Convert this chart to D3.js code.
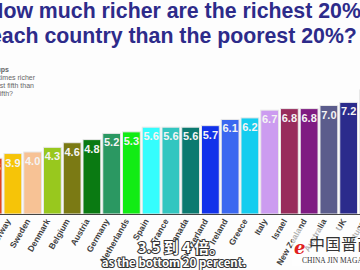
<!DOCTYPE html>
<html>
<head>
<meta charset="utf-8">
<script src="https://cdn.jsdelivr.net/npm/d3@7"></script>
<style>
  html, body { margin: 0; padding: 0; background: #fdfdfd; overflow: hidden; }
  svg { display: block; }
</style>
</head>
<body>
<div id="chart"></div>
<script>
// Data ///////////////////////////////////////////////////////////////////
const countries = ['Finland', 'Norway', 'Sweden', 'Denmark', 'Belgium', 'Austria',
  'Germany', 'Netherlands', 'Spain', 'France', 'Canada', 'Switzerland', 'Ireland',
  'Greece', 'Italy', 'Israel', 'New Zealand', 'Australia', 'UK', 'Portugal']
const ratios = [3.6, 3.9, 4.0, 4.3, 4.6, 4.8, 5.2, 5.3, 5.6, 5.6, 5.6, 5.7, 6.1,
  6.2, 6.7, 6.8, 6.8, 7.0, 7.2, 8.0]
const titleLines = ['How much richer are the richest 20% in', 'each country than the poorest 20%?']
const noteLines = ['Income groups', 'How many times richer', 'is the richest fifth than', 'the poorest fifth?']
const subtitleLines = ['3.5 到 4 倍。', 'as the bottom 20 percent.']
///////////////////////////////////////////////////////////////////////////

const palette = ['#e2461c', '#f6c408', '#f7c295', '#98c81e', '#7b7a14', '#0a7a12',
  '#2b9862', '#12ec14', '#35fdfd', '#33c6c0', '#0c7a70', '#1232ea', '#3b68f0',
  '#14cdef', '#cc9cf0', '#982c5c', '#7f1b82', '#5b5c8c', '#2b2b8c', '#1c1c82']

const dimensions = { width: 360, height: 270, baseline: 214 }

const svg = d3.select('#chart')
  .append('svg')
  .attr('width', dimensions.width)
  .attr('height', dimensions.height)

// Scales
const step = 19.75
const xScale = d3.scaleBand()
  .domain(countries)
  .range([-15.75, -15.75 + step * (countries.length - 0.1)])
  .paddingInner(0.1)

const yScale = d3.scaleLinear()
  .domain([0, 8])
  .range([dimensions.baseline, 90])

const colorScale = d3.scaleOrdinal().domain(countries).range(palette)

// Title
svg.append('g')
  .selectAll('text')
  .data(titleLines)
  .join('text')
  .attr('x', (d, i) => i === 0 ? -12 : -10)
  .attr('y', (d, i) => 18 + i * 25)
  .attr('font-family', 'Liberation Sans, Arial, sans-serif')
  .attr('font-weight', 'bold')
  .attr('font-size', 21.3)
  .attr('fill', '#2d2b8a')
  .text(d => d)

// Note at left (cut off)
svg.append('g')
  .selectAll('text')
  .data(noteLines)
  .join('text')
  .attr('x', (d, i) => [9, 35, 34, 13][i])
  .attr('y', (d, i) => 72 + i * 8)
  .attr('text-anchor', 'end')
  .attr('font-family', 'Liberation Sans, Arial, sans-serif')
  .attr('font-weight', (d, i) => i === 0 ? 'bold' : 'normal')
  .attr('font-size', 7)
  .attr('fill', '#666')
  .text(d => d)

// Bars
const bars = svg.append('g')
bars.selectAll('rect')
  .data(countries)
  .join('rect')
  .attr('x', d => xScale(d))
  .attr('y', (d, i) => yScale(ratios[i]))
  .attr('width', xScale.bandwidth())
  .attr('height', (d, i) => dimensions.baseline - yScale(ratios[i]))
  .attr('fill', d => colorScale(d))
  .attr('stroke', '#e8e8e8')
  .attr('stroke-width', 1)

// Value labels
svg.append('g')
  .selectAll('text')
  .data(countries)
  .join('text')
  .attr('x', d => xScale(d) + xScale.bandwidth() / 2)
  .attr('y', (d, i) => yScale(ratios[i]) + 13)
  .attr('text-anchor', 'middle')
  .attr('font-family', 'Liberation Sans, Arial, sans-serif')
  .attr('font-weight', 'bold')
  .attr('font-size', 11)
  .attr('fill', '#f4f4f4')
  .text((d, i) => ratios[i].toFixed(1))

// Baseline
const xAxis = d3.axisBottom(xScale).tickSize(0).tickFormat('')
svg.append('g')
  .attr('transform', `translate(0, ${dimensions.baseline})`)
  .call(xAxis)
  .call(g => g.select('.domain').attr('stroke', '#444').attr('stroke-width', 1.2))

// Country labels
svg.append('g')
  .selectAll('text')
  .data(countries)
  .join('text')
  .attr('transform', d => `translate(${xScale(d) + xScale.bandwidth() / 2 - 2}, 221) rotate(-60)`)
  .attr('text-anchor', 'end')
  .attr('font-family', 'Liberation Sans, Arial, sans-serif')
  .attr('font-weight', 'bold')
  .attr('font-size', 8.5)
  .attr('fill', '#404040')
  .text(d => d)

// Watermark
const mark = svg.append('g').attr('transform', 'translate(290, 228)')
mark.append('rect')
  .attr('x', 2).attr('y', 0).attr('width', 70).attr('height', 38)
  .attr('fill', '#ffffff').attr('opacity', 0.6)
mark.append('text')
  .attr('x', 4).attr('y', 26)
  .attr('font-family', 'DejaVu Serif, serif')
  .attr('font-style', 'italic')
  .attr('font-weight', 'bold')
  .attr('font-size', 18)
  .attr('fill', '#e02020')
  .text('e')
mark.append('text')
  .attr('x', 19).attr('y', 22)
  .attr('font-family', 'Noto Sans CJK SC')
  .attr('font-size', 16)
  .attr('fill', '#333')
  .text('中国晋商')
mark.append('text')
  .attr('x', 12).attr('y', 35)
  .attr('font-family', 'Liberation Serif, serif')
  .attr('font-size', 7.5)
  .attr('fill', '#333')
  .text('CHINA JIN MAGAZINE')

// Subtitles
svg.append('g')
  .selectAll('text')
  .data(subtitleLines)
  .join('text')
  .attr('x', (d, i) => i === 0 ? 181 : 174)
  .attr('y', (d, i) => i === 0 ? 253 : 267)
  .attr('text-anchor', 'middle')
  .attr('font-family', 'Noto Sans CJK SC, Liberation Sans, sans-serif')
  .attr('font-weight', 'bold')
  .attr('font-size', (d, i) => i === 0 ? 15 : 11.5)
  .attr('fill', '#ffffff')
  .attr('stroke', '#333')
  .attr('stroke-width', 2)
  .attr('paint-order', 'stroke')
  .text(d => d)
</script>
</body>
</html>
